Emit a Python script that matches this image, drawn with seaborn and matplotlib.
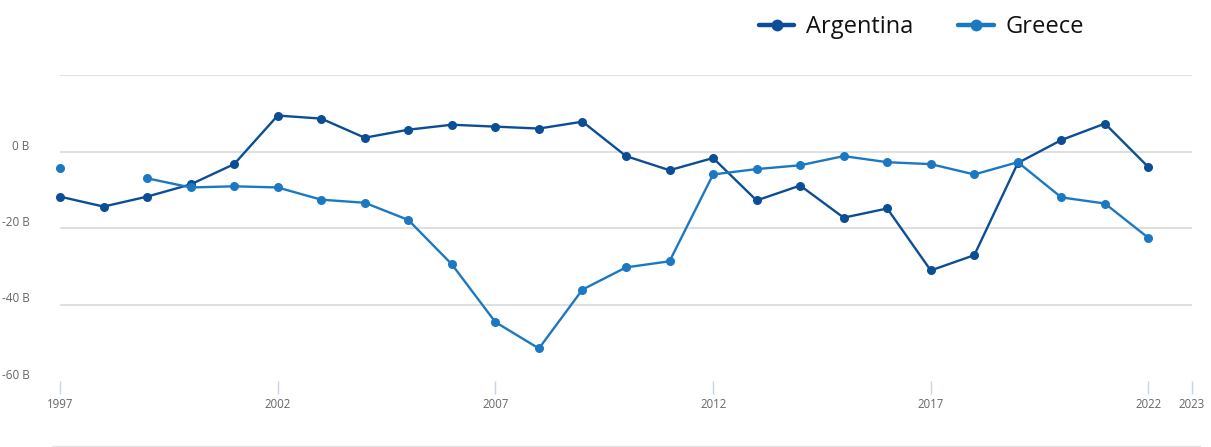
import numpy as np
import pandas as pd
import matplotlib
matplotlib.use("Agg")
import matplotlib.pyplot as plt
from matplotlib.transforms import ScaledTranslation
from matplotlib.lines import Line2D
import seaborn as sns

years = list(range(1997, 2023))
argentina = [-11.8, -14.4, -11.8, -8.6, -3.3, 9.4, 8.6, 3.6, 5.7, 7.0, 6.5, 6.0, 7.8,
             -1.2, -4.9, -1.7, -12.8, -8.9, -17.3, -14.9, -31.1, -27.1, -3.0, 3.0, 7.3, -4.1]
greece = [-4.4, np.nan, -7.0, -9.4, -9.1, -9.4, -12.6, -13.4, -17.9, -29.5, -44.6, -51.5, -36.1,
          -30.3, -28.7, -6.0, -4.6, -3.6, -1.2, -2.8, -3.3, -6.0, -2.8, -12.0, -13.6, -22.6]
countries = ["Argentina", "Greece"]
colors = ["#0b4e96", "#1a79c2"]
xticks = [1997, 2002, 2007, 2012, 2017, 2022, 2023]
yticks = [-60, -40, -20, 0, 20]
ytick_labels = ["-60 B", "-40 B", "-20 B", "0 B", ""]

frames = []
for name, vals in zip(countries, [argentina, greece]):
    d = pd.DataFrame({"year": years, "value": vals, "country": name})
    d["seg"] = d["value"].isna().cumsum()
    d = d.dropna()
    frames.append(d)
df = pd.concat(frames, ignore_index=True)

sns.set_theme(style="white")
plt.rcParams["font.family"] = ["Open Sans", "DejaVu Sans"]

W, H = 1211, 447
fig = plt.figure(figsize=(W / 100, H / 100), dpi=100)
ax = fig.add_axes([60 / W, 1 - 381 / H, (1192 - 60) / W, (381 - 75) / H])

sns.lineplot(data=df, x="year", y="value", hue="country", units="seg", estimator=None,
             palette=dict(zip(countries, colors)), marker="o", markersize=6.5,
             markeredgewidth=0, linewidth=1.7, ax=ax, clip_on=False, sort=True)

ax.set_xlim(1997, 2023)
ax.set_ylim(-60, 20)
ax.set_xticks(xticks)
ax.set_xticklabels([str(t) for t in xticks])
ax.set_yticks(yticks)
ax.set_yticklabels(ytick_labels)
ax.set_xlabel("")
ax.set_ylabel("")
for s in ax.spines.values():
    s.set_visible(False)
ax.grid(axis="y", color="#dcdcdc", linewidth=1.3)
ax.grid(axis="x", visible=False)
ygl = ax.get_ygridlines()
ygl[0].set_visible(False)

ax.tick_params(axis="x", length=9.5, width=1, color="#c5d5e5", pad=3, labelsize=8.3,
               labelcolor="#666666", bottom=True, direction="out")
ax.tick_params(axis="y", length=0, pad=22, labelsize=8.5, labelcolor="#666666")
off = ScaledTranslation(0, 7 / 100, fig.dpi_scale_trans)
for lab in ax.get_yticklabels():
    lab.set_transform(lab.get_transform() + off)

leg = ax.legend(loc="center left", bbox_to_anchor=(740 / W, 1 - 27 / H),
                bbox_transform=fig.transFigure, ncol=2, frameon=False,
                fontsize=17, handlelength=1.5, columnspacing=1.9, handletextpad=0.5,
                borderpad=0.3)
for h in leg.legend_handles:
    h.set_linewidth(3.2)
    h.set_markersize(8.5)
for t in leg.get_texts():
    t.set_color("#111111")

fig.add_artist(Line2D([52 / W, 1200 / W], [1 - 446 / H, 1 - 446 / H],
                      transform=fig.transFigure, color="#e4e4e4", linewidth=1))

fig.savefig("out.png", dpi=100)
